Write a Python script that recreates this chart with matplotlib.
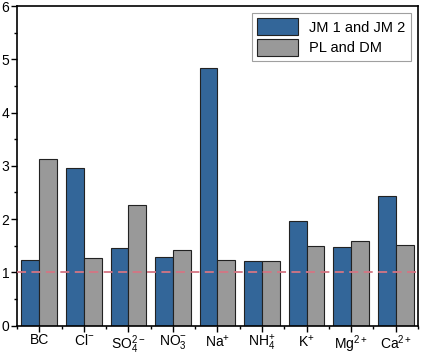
import matplotlib
matplotlib.use("Agg")
import matplotlib.pyplot as plt
import numpy as np

plt.rcParams['font.family'] = ['Liberation Sans', 'DejaVu Sans']
plt.rcParams['mathtext.fontset'] = 'custom'
plt.rcParams['mathtext.rm'] = 'Liberation Sans'
plt.rcParams['mathtext.it'] = 'Liberation Sans'
plt.rcParams['mathtext.default'] = 'regular'

categories = ['BC', r'Cl$^{-}$', r'SO$_4^{2-}$', r'NO$_3^{-}$', r'Na$^{+}$',
              r'NH$_4^{+}$', r'K$^{+}$', r'Mg$^{2+}$', r'Ca$^{2+}$']
jm = [1.24, 2.95, 1.46, 1.29, 4.83, 1.22, 1.96, 1.47, 2.44]
pl = [3.12, 1.27, 2.27, 1.42, 1.24, 1.21, 1.50, 1.59, 1.52]

fig = plt.figure(figsize=(4.22, 3.55), dpi=100)
ax = fig.add_axes([0.0403, 0.0830, 0.9502, 0.9000])

x = np.arange(len(categories))
w = 0.4
ax.bar(x - w / 2, jm, w, color='#336699', edgecolor='#222222', linewidth=0.8,
       label='JM 1 and JM 2', zorder=2)
ax.bar(x + w / 2, pl, w, color='#999999', edgecolor='#222222', linewidth=0.8,
       label='PL and DM', zorder=2)
ax.axhline(1, color='#d47583', linestyle=(0, (5, 3)), linewidth=1.3, zorder=3)

ax.set_xlim(-0.5, len(categories) - 0.5)
ax.set_ylim(0, 6)
ax.set_xticks(x)
ax.set_xticklabels(categories)
ax.set_xticks(np.arange(-0.5, len(categories), 1), minor=True)
ax.set_yticks(range(7))
ax.set_yticks(np.arange(0.5, 6, 1), minor=True)
ax.tick_params(which='major', direction='out', length=4, width=1, labelsize=10, pad=1.5)
ax.tick_params(which='minor', direction='out', length=2.5, width=1)
for s in ax.spines.values():
    s.set_linewidth(1.2)

leg = ax.legend(loc='upper right', fancybox=False, edgecolor='#888888',
                fontsize=10.5, handlelength=2.8, handleheight=1.4,
                borderaxespad=0.5, labelspacing=0.25, borderpad=0.35)
leg.get_frame().set_linewidth(0.8)

fig.savefig('out.png', dpi=100)
